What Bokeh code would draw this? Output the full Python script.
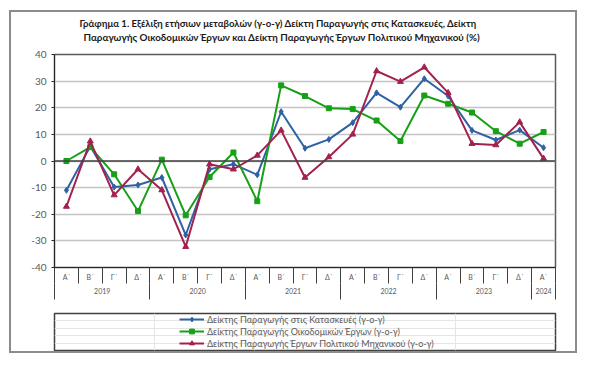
import numpy as np
from bokeh.plotting import figure
from bokeh.layouts import column
from bokeh.models import (Range1d, LinearAxis, FixedTicker, Legend, LegendItem, Span, Title)
from bokeh.embed import file_html
from bokeh.resources import INLINE

# ---- data ----
years = ["2019"] * 4 + ["2020"] * 4 + ["2021"] * 4 + ["2022"] * 4 + ["2023"] * 4 + ["2024"]
quarters = ["Α΄", "Β΄", "Γ΄", "Δ΄"] * 5 + ["Α΄"]

construction = [-11.0, 5.5, -9.8, -9.0, -6.2, -27.8, -3.1, -1.2, -5.2, 18.5, 4.8,
                8.1, 14.4, 25.6, 20.2, 30.9, 24.4, 11.5, 7.9, 11.6, 5.0]
building = [0.0, 5.2, -5.0, -18.8, 0.5, -20.4, -6.0, 3.2, -15.1, 28.4, 24.4,
            19.8, 19.5, 15.2, 7.5, 24.6, 21.5, 18.2, 11.2, 6.5, 10.9]
civil = [-17.1, 7.4, -12.8, -3.1, -10.9, -32.2, -1.2, -3.1, 2.1, 11.5, -6.2,
         1.5, 10.0, 33.8, 29.8, 35.2, 25.6, 6.5, 6.0, 14.6, 0.9]

series_names = ["Δείκτης Παραγωγής στις Κατασκευές (γ-ο-γ)",
                "Δείκτης Παραγωγής Οικοδομικών Έργων (γ-ο-γ)",
                "Δείκτης Παραγωγής Έργων Πολιτικού Μηχανικού (γ-ο-γ)"]
y_ticks = [-40, -30, -20, -10, 0, 10, 20, 30, 40]

title1 = "Γράφημα 1. Εξέλιξη ετήσιων μεταβολών (γ-ο-γ) Δείκτη Παραγωγής στις Κατασκευές, Δείκτη"
title2 = "Παραγωγής Οικοδομικών Έργων και  Δείκτη Παραγωγής  Έργων Πολιτικού Μηχανικού (%)"

# ---- styles ----
FONT = "Lato"
BLUE, GREEN, RED = "#2e62a3", "#17a017", "#a3214e"
LABEL_COLOR = "#595959"

n = len(quarters)
x = np.arange(n)

p = figure(width=564, height=300, x_range=Range1d(-0.5, n - 0.5), y_range=Range1d(-40, 40),
           x_axis_location=None, output_backend="svg", toolbar_location=None,
           min_border_left=37, min_border_right=16, min_border_top=42, min_border_bottom=45)
p.background_fill_color = "white"
p.border_fill_color = "white"
p.outline_line_color = "#595959"
p.outline_line_width = 1.5

# titles: spacer next to frame, then line 2, then line 1 (outermost)
p.title.text = title1
p.title.align = "left"
p.title.offset = 25
p.title.text_font = FONT
p.title.text_font_size = "9.6px"
p.title.text_font_style = "bold"
p.title.text_color = "#1a1a1a"
p.title.standoff = 0
p.add_layout(Title(text="\u00a0", text_font=FONT, text_font_size="8px", standoff=0), "above")
p.add_layout(Title(text=title2, align="left", offset=29, text_font=FONT, text_font_size="9.8px",
                   text_font_style="bold", text_color="#1a1a1a", standoff=0), "above")

# y axis
p.yaxis.ticker = FixedTicker(ticks=y_ticks)
p.yaxis.major_label_overrides = {v: str(v) for v in y_ticks}
p.yaxis.major_tick_out = 3
p.yaxis.major_tick_in = 0
p.yaxis.minor_tick_line_color = None
p.yaxis.axis_line_color = "#262626"
p.yaxis.major_tick_line_color = "#262626"
p.yaxis.major_label_text_font = FONT
p.yaxis.major_label_text_font_size = "10px"
p.yaxis.major_label_text_color = LABEL_COLOR
p.yaxis.major_label_standoff = 5

p.ygrid.grid_line_color = "#c4c4c4"
p.ygrid.grid_line_width = 1.5
p.xgrid.grid_line_color = None

p.add_layout(Span(location=0, dimension="width", line_color="#404040", line_width=1.5))

# quarter axis
q_edges = list(np.arange(n + 1) - 0.5)
qaxis = LinearAxis(ticker=FixedTicker(ticks=list(range(n)), minor_ticks=q_edges))
qaxis.major_label_overrides = {i: q for i, q in enumerate(quarters)}
qaxis.major_tick_line_color = None
qaxis.major_tick_out = 0
qaxis.major_tick_in = 0
qaxis.minor_tick_out = 16
qaxis.minor_tick_in = 0
qaxis.minor_tick_line_color = "#404040"
qaxis.axis_line_color = "#262626"
qaxis.major_label_standoff = -11
qaxis.major_label_text_font = FONT
qaxis.major_label_text_font_size = "7px"
qaxis.major_label_text_color = LABEL_COLOR
p.add_layout(qaxis, "below")

# year axis (half-quarter units so centres are integers)
year_names = list(dict.fromkeys(years))
counts = [years.count(y) for y in year_names]
edges = np.concatenate([[0], np.cumsum(counts)]) - 0.5
centers = (edges[:-1] + edges[1:]) / 2
p.extra_x_ranges = {"yr": Range1d(2 * (-0.5), 2 * (n - 0.5))}
yaxis2 = LinearAxis(x_range_name="yr",
                    ticker=FixedTicker(ticks=[int(round(2 * c)) for c in centers],
                                       minor_ticks=[float(2 * e) for e in edges]))
yaxis2.major_label_overrides = {int(round(2 * c)): yn for c, yn in zip(centers, year_names)}
yaxis2.major_tick_line_color = None
yaxis2.major_tick_out = 0
yaxis2.major_tick_in = 0
yaxis2.minor_tick_out = 16
yaxis2.minor_tick_in = 0
yaxis2.minor_tick_line_color = "#404040"
yaxis2.axis_line_color = None
yaxis2.major_label_standoff = -12
yaxis2.major_label_text_font = FONT
yaxis2.major_label_text_font_size = "7px"
yaxis2.major_label_text_color = LABEL_COLOR
p.add_layout(yaxis2, "below")

# series
p.line(x, construction, line_color=BLUE, line_width=2)
p.scatter(x, construction, marker="diamond", size=6, color=BLUE)
p.line(x, building, line_color=GREEN, line_width=2)
p.scatter(x, building, marker="square", size=5, color=GREEN)
p.line(x, civil, line_color=RED, line_width=2)
p.scatter(x, civil, marker="triangle", size=6, color=RED)

# ---- legend strip (second figure whose frame is the legend box) ----
p2 = figure(width=564, height=39, x_range=Range1d(n + 5, n + 6), y_range=Range1d(0, 1),
            x_axis_location=None, y_axis_location=None, title_location=None,
            output_backend="svg", toolbar_location=None,
            min_border_left=43, min_border_right=20, min_border_top=1, min_border_bottom=1)
p2.outline_line_color = "#404040"
p2.outline_line_width = 1.5
p2.background_fill_color = "white"
p2.border_fill_color = "white"
l1 = p2.line(x, construction, line_color=BLUE, line_width=2)
m1 = p2.scatter(x, construction, marker="diamond", size=6, color=BLUE)
l2 = p2.line(x, building, line_color=GREEN, line_width=2)
m2 = p2.scatter(x, building, marker="square", size=5, color=GREEN)
l3 = p2.line(x, civil, line_color=RED, line_width=2)
m3 = p2.scatter(x, civil, marker="triangle", size=6, color=RED)

leg = Legend(items=[LegendItem(label=series_names[0], renderers=[l1, m1]),
                    LegendItem(label=series_names[1], renderers=[l2, m2]),
                    LegendItem(label=series_names[2], renderers=[l3, m3])],
             location=(125, 1), padding=0, margin=0, spacing=0, glyph_width=25,
             glyph_height=12, label_height=12, label_standoff=3,
             border_line_color=None, background_fill_alpha=0,
             label_text_font=FONT, label_text_font_size="9px", label_text_color=LABEL_COLOR)
p2.add_layout(leg, "center")

layout = column(p, p2, styles={"border": "2px solid #8c8c8c", "background-color": "white",
                               "margin-left": "9px", "margin-top": "10px"})

open("out.html", "w").write(file_html(layout, INLINE))
